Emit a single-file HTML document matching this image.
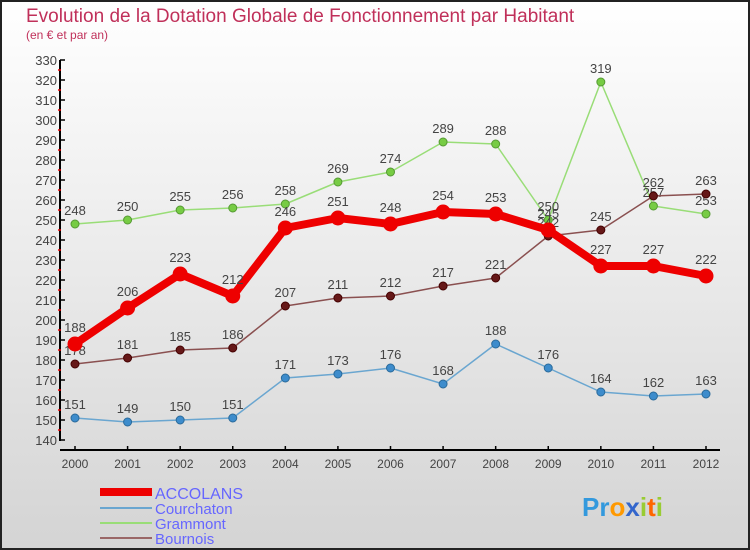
<!DOCTYPE html>
<html><head><meta charset="utf-8"><style>
body{margin:0}
#wrap{position:relative;width:750px;height:550px;overflow:hidden;font-family:"Liberation Sans",sans-serif}
</style></head><body>
<div id="wrap">
<svg id="svg" width="750" height="550" xmlns="http://www.w3.org/2000/svg">
<defs><linearGradient id="bg" x1="0" y1="0" x2="0" y2="1"><stop offset="0" stop-color="#ffffff"/><stop offset="1" stop-color="#d4d4d4"/></linearGradient></defs>
<rect x="1" y="1" width="748" height="548" fill="url(#bg)" stroke="#222" stroke-width="2"/>
<text x="26" y="22" font-size="19" fill="#c0305a">Evolution de la Dotation Globale de Fonctionnement par Habitant</text>
<text x="26" y="39" font-size="12" fill="#c0305a">(en € et par an)</text>
<g id="axes"></g>
<g id="series"></g>
<g id="legend">
<rect x="100" y="488" width="52" height="8" fill="#ee0000"/>
<text x="155" y="499" font-size="16" fill="#6666ff">ACCOLANS</text>
<rect x="100" y="507" width="52" height="2" fill="#6aa6d0"/>
<text x="155" y="514" font-size="15" fill="#6666ff">Courchaton</text>
<rect x="100" y="522" width="52" height="2" fill="#99dd77"/>
<text x="155" y="529" font-size="15" fill="#6666ff">Grammont</text>
<rect x="100" y="537" width="52" height="2" fill="#996666"/>
<text x="155" y="544" font-size="15" fill="#6666ff">Bournois</text>
</g>
<text x="582" y="516" font-size="26" font-weight="bold"><tspan fill="#3399dd">Pr</tspan><tspan fill="#ff9900">o</tspan><tspan fill="#3366cc">x</tspan><tspan fill="#99cc33">i</tspan><tspan fill="#ff6600">t</tspan><tspan fill="#99cc33">i</tspan></text>
</svg>
</div>
<script>
const years=[2000,2001,2002,2003,2004,2005,2006,2007,2008,2009,2010,2011,2012];
const yTicks=[140,150,160,170,180,190,200,210,220,230,240,250,260,270,280,290,300,310,320,330];
const accolans=[188,206,223,212,246,251,248,254,253,245,227,227,222];
const courchaton=[151,149,150,151,171,173,176,168,188,176,164,162,163];
const grammont=[248,250,255,256,258,269,274,289,288,250,319,257,253];
const bournois=[178,181,185,186,207,211,212,217,221,242,245,262,263];
const NS="http://www.w3.org/2000/svg";
function X(i){return 75+i*(706-75)/(years.length-1);}
function Y(v){return 60+(330-v)*2;}
function mk(tag,attrs,parent){const e=document.createElementNS(NS,tag);for(const k in attrs)e.setAttribute(k,attrs[k]);parent.appendChild(e);return e;}
const axes=document.getElementById('axes');
const ya=mk('line',{x1:60,y1:Y(330),x2:60,y2:Y(140)+1,stroke:'#000','stroke-width':2},axes);


const xa=mk('line',{x1:60,y1:450,x2:720,y2:450,stroke:'#000','stroke-width':2},axes);


yTicks.forEach(v=>{
  mk('line',{x1:60,y1:Y(v),x2:65,y2:Y(v),stroke:'#000','stroke-width':1.5},axes);
  if(v<330)mk('line',{x1:58,y1:Y(v+5),x2:61,y2:Y(v+5),stroke:'#e00','stroke-width':1.5},axes);
  const t=mk('text',{x:57,y:Y(v)+5,'font-size':13,fill:'#444','text-anchor':'end'},axes);
  t.textContent=v;
  
  
});
years.forEach((yr,i)=>{
  mk('line',{x1:X(i),y1:446,x2:X(i),y2:450,stroke:'#000','stroke-width':1.5},axes);
  const t=mk('text',{x:X(i),y:468,'font-size':12,fill:'#444','text-anchor':'middle'},axes);
  t.textContent=yr;
  
  
});
const sg=document.getElementById('series');
function draw(name,vals,color,w,r,dot,dotStroke){
  const g=mk('g',{},sg);
  
  
  const pl=mk('polyline',{points:vals.map((v,i)=>X(i)+','+Y(v)).join(' '),fill:'none',stroke:color,'stroke-width':w,'stroke-linejoin':'round'},g);
  
  
  vals.forEach((v,i)=>{
    const c=mk('circle',{cx:X(i),cy:Y(v),r:r,fill:dot,stroke:dotStroke,'stroke-width':1},g);
    
    
    const t=mk('text',{x:X(i),y:Y(v)-r-5,'font-size':13,fill:'#444','text-anchor':'middle'},g);
    t.textContent=v;
    
    
  });
}
draw('courchaton',courchaton,'#6aa6d0',1.5,4,'#3d8ccc','#2a6a9a');
draw('grammont',grammont,'#99dd77',1.5,4,'#77cc44','#559933');
draw('bournois',bournois,'#8a5050',1.5,4,'#661818','#440000');
draw('accolans',accolans,'#ee0000',8,7,'#ee0000','#ee0000');
</script>
</body></html>
